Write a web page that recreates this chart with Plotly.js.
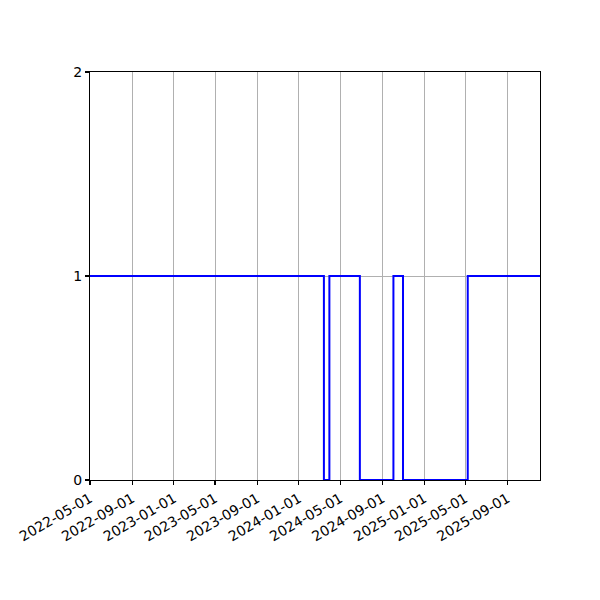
<!DOCTYPE html>
<html>
<head>
<meta charset="utf-8">
<script src="https://cdn.plot.ly/plotly-3.0.1.min.js"></script>
<style>body{margin:0;background:#fff}#plot{width:600px;height:600px}</style>
</head>
<body>
<div id="plot"></div>
<script>
  // state changes, drawn as a post-step line
  const dates = ['2022-05-01', '2024-03-14', '2024-03-30', '2024-06-27', '2024-10-03', '2024-10-31', '2025-05-08', '2025-12-05'];
  const values = [1, 0, 1, 0, 1, 0, 1, 1];
  const yTicks = [0, 1, 2];

  const trace = {
    x: dates,
    y: values,
    mode: 'lines',
    line: {shape: 'hv', color: '#0000ff', width: 2},
    hoverinfo: 'skip'
  };

  const axisStyle = {
    showline: true, mirror: true, linecolor: '#000', linewidth: 1.1,
    ticks: 'outside', ticklen: 4, tickcolor: '#000', tickwidth: 1.1,
    showgrid: true, gridcolor: '#b0b0b0', gridwidth: 1,
    zeroline: false,
    tickfont: {family: 'DejaVu Sans', size: 14, color: '#000'}
  };

  const layout = {
    width: 600, height: 600,
    margin: {l: 90, r: 60, t: 72, b: 120},
    paper_bgcolor: '#fff', plot_bgcolor: '#fff',
    showlegend: false,
    xaxis: Object.assign({}, axisStyle, {
      type: 'date',
      range: [dates[0], dates[dates.length - 1]],
      tick0: '2022-05-01', dtick: 'M4',
      tickformat: '%Y-%m-%d',
      tickangle: -30
    }),
    yaxis: Object.assign({}, axisStyle, {
      range: [0, 2],
      tickvals: yTicks,
      ticktext: yTicks.map(String)
    })
  };

  Plotly.newPlot('plot', [trace], layout, {staticPlot: true});
</script>
</body>
</html>
